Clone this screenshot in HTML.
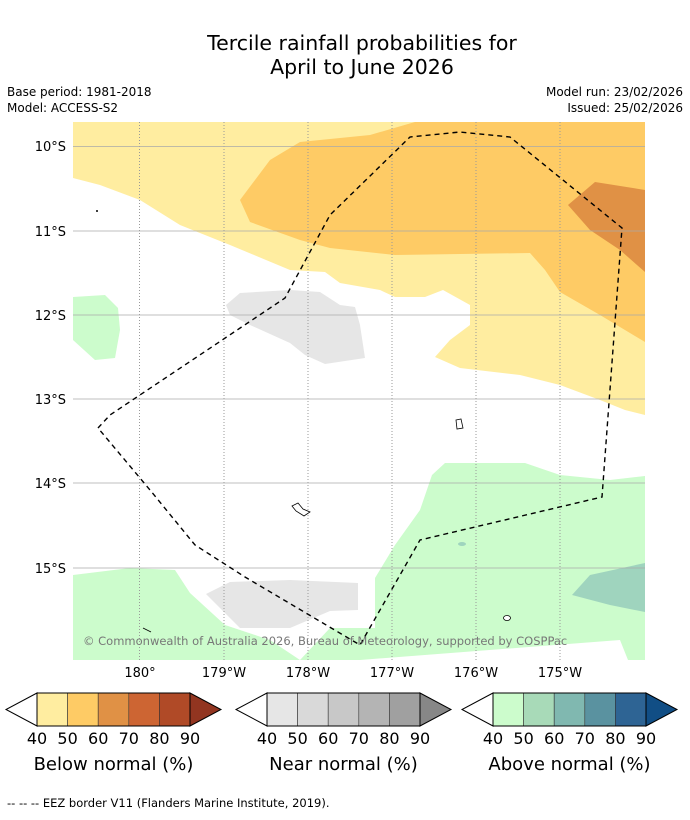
<!DOCTYPE html>
<html><head><meta charset="utf-8"><style>
body{margin:0;background:#fff;font-family:"DejaVu Sans","Liberation Sans",sans-serif}
svg text{font-family:"DejaVu Sans","Liberation Sans",sans-serif}
</style></head><body>
<svg width="690" height="816" viewBox="0 0 690 816">
<rect width="690" height="816" fill="#fff"/>
<text x="362" y="50" font-size="20.5" text-anchor="middle">Tercile rainfall probabilities for</text>
<text x="362" y="74" font-size="20.5" text-anchor="middle">April to June 2026</text>
<text x="7" y="96" font-size="12">Base period: 1981-2018</text>
<text x="7" y="112" font-size="12">Model: ACCESS-S2</text>
<text x="683" y="96" font-size="12" text-anchor="end">Model run: 23/02/2026</text>
<text x="683" y="112" font-size="12" text-anchor="end">Issued: 25/02/2026</text>
<defs><clipPath id="mc"><rect x="73" y="122" width="572" height="538"/></clipPath></defs>
<g clip-path="url(#mc)">
<polygon fill="#ffeda0" points="73,122 645,122 645,415 625,410 600,400 560,385 520,375 460,368 435,357 450,340 470,325 470,305 443,290 425,297 395,297 380,290 340,283 325,272 290,270 230,245 180,225 140,200 100,185 73,178"/>
<polygon fill="#fecb65" points="415,122 645,122 645,342 600,315 560,292 545,270 530,253 395,255 330,248 300,240 250,222 240,200 270,160 300,142 370,135"/>
<polygon fill="#e09145" points="568,205 595,182 645,190 645,272 620,250 590,230"/>
<polygon fill="#e6e6e6" points="226,305 240,293 290,290 320,292 340,305 355,307 360,325 365,358 325,364 305,355 290,343 250,325 230,315"/>
<polygon fill="#ccfccc" points="73,297 105,295 118,308 120,330 115,358 95,360 73,340"/>
<polygon fill="#ccfccc" points="73,575 130,568 175,570 190,593 225,625 270,640 300,660 73,660"/>
<polygon fill="#ccfccc" points="300,660 330,628 375,628 375,578 395,545 420,510 432,475 445,463 525,463 560,475 610,480 645,476 645,660 628,660 620,640 360,660"/>
<polygon fill="#e6e6e6" points="206,594 230,582 290,580 358,583 358,610 330,611 290,628 240,628"/>
<polygon fill="#9fd4be" points="572,595 590,575 645,563 645,612 610,605"/>
<ellipse cx="462" cy="544" rx="4" ry="2" fill="#9fd4be"/>
<g stroke="#999" stroke-width="1" stroke-dasharray="1,2">
<line x1="139.5" y1="122" x2="139.5" y2="660"/><line x1="224" y1="122" x2="224" y2="660"/><line x1="308" y1="122" x2="308" y2="660"/><line x1="392" y1="122" x2="392" y2="660"/><line x1="476" y1="122" x2="476" y2="660"/><line x1="560" y1="122" x2="560" y2="660"/>
</g>
<g stroke="#aaa" stroke-width="0.8">
<line x1="73" y1="146.5" x2="645" y2="146.5"/><line x1="73" y1="231" x2="645" y2="231"/><line x1="73" y1="315" x2="645" y2="315"/><line x1="73" y1="399" x2="645" y2="399"/><line x1="73" y1="483" x2="645" y2="483"/><line x1="73" y1="568" x2="645" y2="568"/>
</g>
<g fill="#fff" stroke="#000" stroke-width="0.8">
<path d="M456,420 L461,419 L463,428 L457,429 Z"/>
<path d="M292,506 L298,503 L303,509 L310,512 L304,516 L296,511 Z"/>
<ellipse cx="507" cy="618" rx="3.5" ry="2.5"/>
<path d="M143,628 L151,632" fill="none"/>
</g>
<circle cx="97" cy="211" r="1" fill="#000"/>
<polyline fill="none" stroke="#000" stroke-width="1.4" stroke-dasharray="5,4" points="98,428 110,415 285,298 330,215 410,137 460,132 510,137 622,228 602,497 420,540 360,645 245,577 195,545 150,490 98,428"/>
<text x="83" y="645" font-size="11.5" fill="#777">© Commonwealth of Australia 2026, Bureau of Meteorology, supported by COSPPac</text>
</g>
<g font-size="13" text-anchor="end">
<text x="66" y="151">10°S</text><text x="66" y="236">11°S</text><text x="66" y="320">12°S</text><text x="66" y="404">13°S</text><text x="66" y="488">14°S</text><text x="66" y="573">15°S</text>
</g>
<g font-size="13" text-anchor="middle">
<text x="140" y="677">180°</text><text x="224" y="677">179°W</text><text x="308" y="677">178°W</text><text x="392" y="677">177°W</text><text x="476" y="677">176°W</text><text x="560" y="677">175°W</text>
</g>
<g id="bars"></g>
<text x="7" y="807" font-size="11.5">--  --  -- EEZ border V11 (Flanders Marine Institute, 2019).</text>
</svg>
<script>
const ticks=["40","50","60","70","80","90"];
const bars=[
 {x:37,name:"below",label:"Below normal (%)",cols:["#ffeda0","#fecb65","#e09145","#cd6533","#b04a27","#923520"]},
 {x:267,name:"near",label:"Near normal (%)",cols:["#e6e6e6","#d9d9d9","#c8c8c8","#b4b4b4","#a0a0a0","#878787"]},
 {x:493,name:"above",label:"Above normal (%)",cols:["#ccfccc","#a8dab8","#80b8b0","#5a92a0","#2e6494","#114e85"]}
];
const NS="http://www.w3.org/2000/svg";
const g=document.getElementById('bars');
function mk(t,a){const e=document.createElementNS(NS,t);for(const k in a)e.setAttribute(k,a[k]);g.appendChild(e);return e;}
const w=30.6,y0=693,y1=726,ym=709.5;
bars.forEach(b=>{
 const l=mk('polygon',{points:`${b.x},${y0} ${b.x-31},${ym} ${b.x},${y1}`,fill:'#fff',stroke:'#000','stroke-width':1});
 
 
 for(let i=0;i<5;i++){
  const r=mk('rect',{x:b.x+i*w,y:y0,width:w,height:y1-y0,fill:b.cols[i],stroke:'#333','stroke-width':0.6});
  
  
 }
 const e=b.x+5*w;
 const h=mk('polygon',{points:`${e},${y0} ${e+31},${ym} ${e},${y1}`,fill:b.cols[5],stroke:'#000','stroke-width':1});
 
 
 mk('rect',{x:b.x,y:y0,width:5*w,height:y1-y0,fill:'none',stroke:'#000','stroke-width':1});
 ticks.forEach((t,i)=>{
  const tx=mk('text',{x:b.x+i*w,y:744,'font-size':16,'text-anchor':'middle'});
  tx.textContent=t;
  
  
 });
 const lb=mk('text',{x:b.x+2.5*w,y:770,'font-size':18,'text-anchor':'middle'});
 lb.textContent=b.label;
 
 
});
</script>
</body></html>
